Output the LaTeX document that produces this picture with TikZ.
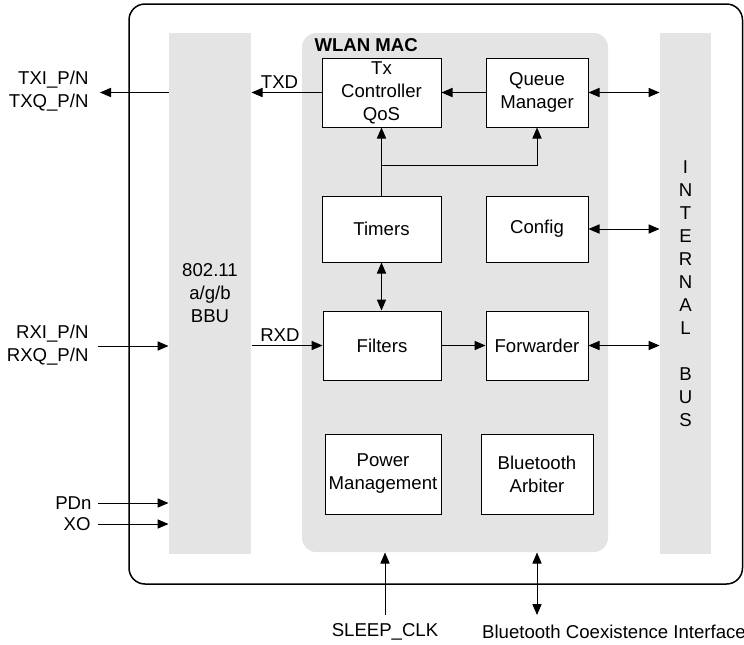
\documentclass[tikz,border=0pt]{standalone}
\usepackage{fontspec}
\setmainfont{Liberation Sans}
\usepackage{tikz}
\usetikzlibrary{arrows.meta,positioning,calc}
\definecolor{panegray}{RGB}{228,228,228}

\begin{document}
\begin{tikzpicture}[x=0.5pt,y=-0.5pt,>={Triangle[length=5.5pt,width=4.6pt]},
  font=\fontsize{9.3}{11.5}\selectfont,line width=0.5pt,
  blk/.style={draw,fill=white,align=center,inner sep=0pt},
  pane/.style={fill=panegray,inner sep=0pt,align=center},
  sig/.style={align=right,anchor=east,inner sep=0pt}]
  \useasboundingbox (0,0) rectangle (744,644);
  % chip outline
  \draw[line width=0.75pt,rounded corners=8pt] (129,4) rectangle (742.5,584);
  % grey panes
  \node[pane,minimum width=41pt,minimum height=260.5pt] (bbu) at (210,293.5) {802.11\\a/g/b\\BBU};
  \node[pane,rounded corners=7pt,minimum width=153pt,minimum height=259.5pt] (mac) at (455,292.5) {};
  \node[pane,minimum width=25.5pt,minimum height=260.5pt] (bus) at (685.5,293.5)
    {I\\N\\T\\E\\R\\N\\A\\L\\[11.5pt]B\\U\\S};
  \node[font=\fontsize{9.3}{11.5}\selectfont\bfseries,anchor=west,inner sep=0pt] (maclbl) at (314,45) {WLAN MAC};
  % MAC blocks
  \node[blk,minimum width=59.5pt,minimum height=34.5pt] (txc) at (381.5,92.5) {Tx\\Controller\\QoS};
  \node[blk,minimum width=51pt,minimum height=34.5pt] (queue) at (537,92.5) {Queue\\Manager};
  \node[blk,minimum width=59.5pt,minimum height=33pt] (timers) at (381.5,229) {Timers};
  \node[blk,minimum width=51pt,minimum height=33pt] (config) at (537,229) {Config};
  \node[blk,minimum width=59pt,minimum height=34.5pt] (filters) at (382,345.5) {Filters};
  \node[blk,minimum width=51pt,minimum height=34.5pt] (fwd) at (537,345.5) {Forwarder};
  \node[blk,minimum width=58pt,minimum height=40pt] (power) at (383,474) {Power\\Management};
  \node[blk,minimum width=56pt,minimum height=40pt] (btarb) at (537,474) {Bluetooth\\Arbiter};
  % inner connections
  \draw[->] (queue.west) -- (txc.east);
  \draw[<->] (queue.east) -- (queue.east -| bus.west);
  \draw[<->] (config.east) -- (config.east -| bus.west);
  \draw[<->] (fwd.east) -- (fwd.east -| bus.west);
  \draw[->] (filters.east) -- (fwd.west);
  \draw[<->] (timers.south) -- (timers.south |- filters.north);
  \draw[->] (timers.north) -- (txc.south);
  \coordinate (split) at (381.5,165);
  \draw[->] (split) -| (queue.south);
  \draw[->] (txc.west) -- node[above,pos=0.6,inner sep=2pt] (txdlbl) {TXD} (txc.west -| bbu.east);
  \draw[->] (bbu.east |- filters.west) -- node[above,pos=0.4,inner sep=2pt] (rxdlbl) {RXD} (filters.west);
  % external pins
  \coordinate (txpin) at (100,92.5);
  \coordinate (rxpin) at (98,346);
  \coordinate (pdpin) at (98,503);
  \coordinate (xopin) at (98,524);
  \coordinate (clkpin) at (385,615);
  \coordinate (btpin) at (537,615);
  \draw[->] (bbu.west |- txpin) -- (txpin);
  \draw[->] (rxpin) -- (rxpin -| bbu.west);
  \draw[->] (pdpin) -- (pdpin -| bbu.west);
  \draw[->] (xopin) -- (xopin -| bbu.west);
  \draw[->] (clkpin) -- (clkpin |- mac.south);
  \draw[<->] (btpin) -- (btpin |- mac.south);
  \node[sig] (txsig) at (89,91) {TXI\_P/N\\TXQ\_P/N};
  \node[sig] (rxsig) at (89,345) {RXI\_P/N\\RXQ\_P/N};
  \node[sig] (pdsig) at (92,503) {PDn};
  \node[sig] (xosig) at (91,524) {XO};
  \node[inner sep=0pt] (clksig) at (385,632) {SLEEP\_CLK};
  \node[inner sep=0pt] (btsig) at (614,632) {Bluetooth Coexistence Interface};
\end{tikzpicture}
\end{document}
